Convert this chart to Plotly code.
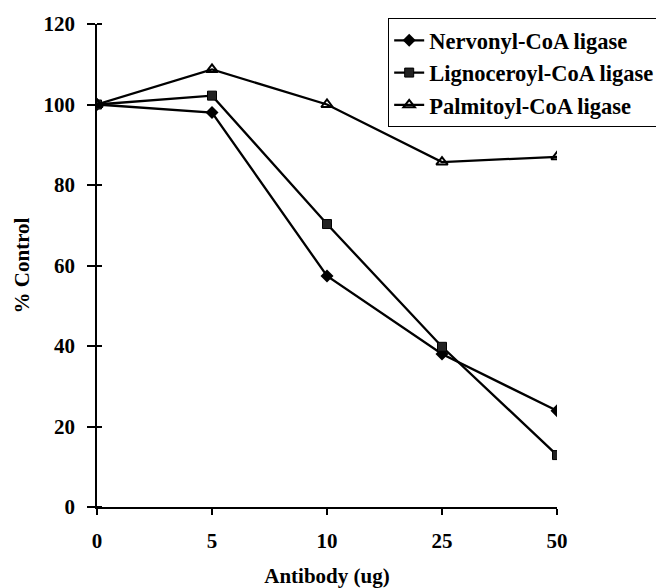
import plotly.graph_objects as go

categories = ["0", "5", "10", "25", "50"]
nervonyl = [100, 98, 57.4, 38, 23.9]
lignoceroyl = [100, 102.2, 70.3, 39.8, 12.9]
palmitoyl = [100, 108.7, 100, 85.7, 87]
y_ticks = [0, 20, 40, 60, 80, 100, 120]

FONT = "Liberation Serif"
FS = 21

fig = go.Figure()
fig.add_trace(go.Scatter(
    x=categories, y=nervonyl, name="<b>Nervonyl-CoA ligase</b>", mode="lines+markers",
    line=dict(color="black", width=2.3),
    marker=dict(symbol="diamond", size=10, color="black")))
fig.add_trace(go.Scatter(
    x=categories, y=lignoceroyl, name="<b>Lignoceroyl-CoA ligase</b>", mode="lines+markers",
    line=dict(color="black", width=2.3),
    marker=dict(symbol="square", size=9, color="#222", line=dict(color="black", width=1))))
fig.add_trace(go.Scatter(
    x=categories, y=palmitoyl, name="<b>Palmitoyl-CoA ligase</b>", mode="lines+markers",
    line=dict(color="black", width=2.3),
    marker=dict(symbol="triangle-up-open", size=10, color="black", line=dict(color="black", width=2))))

fig.update_layout(
    width=664, height=588,
    margin=dict(l=89, r=115, t=16, b=89, autoexpand=False),
    paper_bgcolor="white", plot_bgcolor="white",
    font=dict(family=FONT, size=FS, color="black"),
    showlegend=True,
    legend=dict(x=0.633, y=1.012, xanchor="left", yanchor="top",
                bordercolor="black", borderwidth=1, bgcolor="white",
                font=dict(family=FONT, size=22.5, color="black"),
                itemwidth=30, tracegroupgap=0),
    xaxis=dict(type="category", range=[0, 4], showgrid=False, zeroline=False,
               automargin=False,
               showline=True, linecolor="black", linewidth=1.5,
               ticks="outside", ticklen=6, tickcolor="black", tickwidth=1.5,
               ticklabelstandoff=8,
               tickfont=dict(family=FONT, size=FS, color="black", weight="bold"),
               title=dict(text="<b>Antibody (ug)</b>", standoff=16,
                          font=dict(family=FONT, size=FS, color="black"))),
    yaxis=dict(range=[0, 120], tickvals=y_ticks, showgrid=False, zeroline=False,
               automargin=False,
               showline=True, linecolor="black", linewidth=1.5,
               ticks="outside", ticklen=8, tickcolor="black", tickwidth=1.5,
               ticklabelstandoff=8,
               minor=dict(ticks="inside", tickvals=y_ticks, ticklen=5, tickcolor="black", tickwidth=1.5, showgrid=False),
               tickfont=dict(family=FONT, size=FS, color="black", weight="bold"),
               title=dict(text="<b>% Control</b>", standoff=8,
                          font=dict(family=FONT, size=FS, color="black"))),
)

fig.write_html("out.html")
